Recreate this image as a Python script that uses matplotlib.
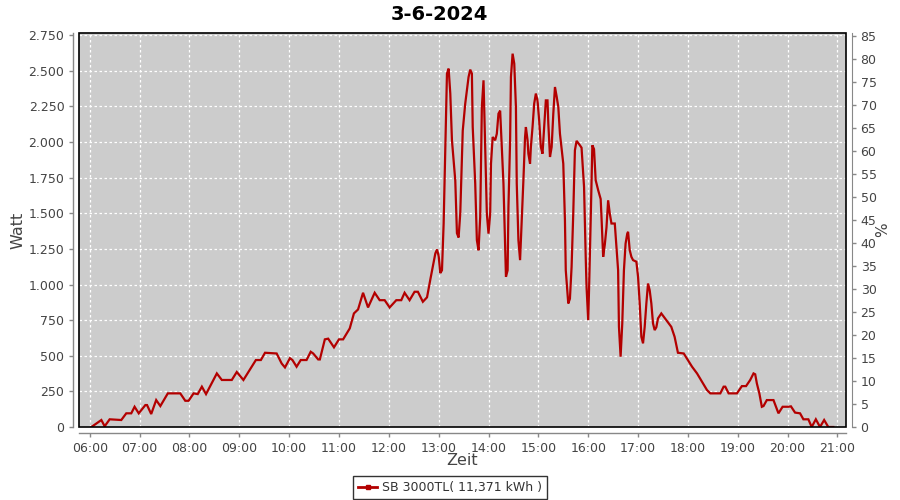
import matplotlib
matplotlib.use("Agg")
import matplotlib.pyplot as plt
from matplotlib.ticker import FixedLocator, FuncFormatter
from matplotlib.lines import Line2D
from matplotlib.patches import Rectangle

title = "3-6-2024"
series_name = "SB 3000TL( 11,371 kWh )"

times = [
    "06:02", "06:14", "06:18", "06:24", "06:38", "06:44", "06:50", "06:54", "06:59", "07:07",
    "07:09", "07:14", "07:20", "07:25", "07:34", "07:49", "07:55", "07:59", "08:05", "08:10",
    "08:15", "08:20", "08:33", "08:39", "08:51", "08:57", "09:05", "09:15", "09:20", "09:26",
    "09:31", "09:45", "09:51", "09:55", "10:01", "10:04", "10:09", "10:14", "10:21", "10:26",
    "10:29", "10:35", "10:37", "10:43", "10:47", "10:54", "11:00", "11:05", "11:13", "11:18",
    "11:23", "11:29", "11:35", "11:43", "11:49", "11:55", "12:01", "12:09", "12:15", "12:19",
    "12:25", "12:31", "12:35", "12:41", "12:46", "12:50", "12:56", "12:58", "13:00", "13:02",
    "13:04", "13:06", "13:08", "13:10", "13:12", "13:14", "13:16", "13:18", "13:20", "13:22",
    "13:24", "13:26", "13:29", "13:32", "13:36", "13:38", "13:40", "13:41", "13:44", "13:46",
    "13:48", "13:50", "13:52", "13:54", "13:58", "14:00", "14:02", "14:03", "14:05", "14:08",
    "14:10", "14:12", "14:14", "14:16", "14:18", "14:20", "14:21", "14:23", "14:24", "14:26",
    "14:27", "14:29", "14:31", "14:33", "14:34", "14:36", "14:38", "14:40", "14:42", "14:44",
    "14:45", "14:47", "14:48", "14:50", "14:51", "14:53", "14:55", "14:57", "14:59", "15:01",
    "15:03", "15:05", "15:07", "15:09", "15:11", "15:12", "15:14", "15:16", "15:18", "15:20",
    "15:22", "15:24", "15:26", "15:30", "15:32", "15:33", "15:36", "15:38", "15:40", "15:42",
    "15:44", "15:46", "15:50", "15:52", "15:55", "15:57", "15:58", "16:00", "16:01", "16:03",
    "16:04", "16:05", "16:07", "16:09", "16:12", "16:15", "16:16", "16:18", "16:20", "16:22",
    "16:24", "16:26", "16:28", "16:32", "16:34", "16:36", "16:37", "16:39", "16:41", "16:43",
    "16:45", "16:47", "16:48", "16:50", "16:52", "16:54", "16:58", "17:00", "17:02", "17:04",
    "17:06", "17:08", "17:10", "17:12", "17:14", "17:16", "17:18", "17:20", "17:22", "17:24",
    "17:28", "17:34", "17:40", "17:44", "17:48", "17:55", "18:00", "18:05", "18:11", "18:17",
    "18:23", "18:27", "18:35", "18:39", "18:43", "18:45", "18:49", "18:59", "19:05", "19:10",
    "19:15", "19:19", "19:21", "19:23", "19:26", "19:29", "19:31", "19:35", "19:43", "19:46",
    "19:49", "19:54", "20:01", "20:04", "20:09", "20:15", "20:19", "20:25", "20:29", "20:34",
    "20:39", "20:44", "20:49", "20:55",
]

watts = [
    0, 49, 5, 54, 49, 96, 96, 142, 96, 154,
    154, 91, 189, 147, 236, 236, 184, 184, 236, 231,
    283, 231, 376, 330, 330, 386, 330, 423, 470, 470,
    521, 516, 446, 418, 483, 470, 423, 470, 470, 528,
    516, 474, 474, 615, 620, 559, 615, 615, 692, 797,
    825, 942, 839, 942, 890, 890, 839, 890, 890, 942,
    890, 949, 949, 879, 910, 1036, 1218, 1246, 1200, 1080,
    1100, 1428, 1942, 2480, 2515, 2340, 2012, 1870, 1730, 1360,
    1330, 1500, 2080, 2270, 2456, 2508, 2480, 2105, 1710, 1311,
    1240, 1474, 2246, 2433, 1497, 1357, 1497, 1848, 2035, 2012,
    2058, 2199, 2220, 1965, 1708, 1263, 1054, 1100, 1545, 2012,
    2456, 2620, 2550, 2246, 1708, 1311, 1171, 1450, 1732, 2035,
    2105, 2012, 1918, 1848, 1965, 2105, 2270, 2340, 2290, 2150,
    1965, 1918, 2105, 2292, 2292, 2130, 1895, 1965, 2200, 2386,
    2320, 2246, 2058, 1848, 1451, 1100, 867, 900, 1123, 1497,
    1942, 2008, 1977, 1960, 1685, 1194, 984, 750, 960, 1451,
    1732, 1977, 1950, 1732, 1662, 1600, 1474, 1194, 1281, 1400,
    1591, 1497, 1428, 1428, 1264, 1100, 703, 493, 727, 1100,
    1287, 1357, 1370, 1240, 1194, 1171, 1160, 1054, 867, 633,
    587, 703, 867, 1007, 960, 867, 727, 680, 700, 762,
    797, 750, 703, 633, 521, 516, 470, 423, 376, 318,
    259, 236, 236, 236, 283, 283, 236, 236, 287, 287,
    330, 376, 370, 306, 236, 142, 147, 189, 189, 142,
    96, 142, 142, 145, 101, 96, 54, 54, 0, 54,
    0, 49, 0, 0,
]

hour_ticks = list(range(6, 22))
watt_ticks = list(range(0, 2751, 250))
pct_ticks = list(range(0, 86, 5))


def to_min(s):
    h, m = s.split(":")
    return int(h) * 60 + int(m)


x = [to_min(t) for t in times]

plt.rcParams['font.family'] = ['DejaVu Sans']
fig = plt.figure(figsize=(9, 5), dpi=100)
fig.patch.set_facecolor('white')
ax = fig.add_axes([79 / 900, 1 - 427 / 500, 767 / 900, 394 / 500])
ax.set_facecolor('#cccccc')

line_color = '#b30000'
ax.plot(x, watts, color=line_color, linewidth=1.6, solid_joinstyle='miter', zorder=3)

ax.set_xlim(347.1, 1270.3)
ax.set_ylim(0, 2765)

ax.xaxis.set_major_locator(FixedLocator([h * 60 for h in hour_ticks]))
ax.xaxis.set_major_formatter(FuncFormatter(lambda v, p: f"{int(round(v / 60)):02d}:00"))
ax.yaxis.set_major_locator(FixedLocator(watt_ticks))
ax.yaxis.set_major_formatter(FuncFormatter(lambda v, p: f"{int(v):,}".replace(",", ".")))

ax.grid(True, color='white', linestyle=(0, (2, 2)), linewidth=0.9, zorder=1)
ax.set_axisbelow(True)

for s in ['top', 'right']:
    ax.spines[s].set_visible(False)
for s in ['left', 'bottom']:
    ax.spines[s].set_position(('outward', 4))
    ax.spines[s].set_color('#888888')
    ax.spines[s].set_linewidth(1)

ax.tick_params(axis='both', colors='#888888', labelcolor='#444444', labelsize=9, length=3, width=1)

ax.add_patch(Rectangle((0, 0), 1, 1, transform=ax.transAxes, fill=False,
                       edgecolor='black', linewidth=1.2, zorder=5, clip_on=False))

ax2 = ax.twinx()
ax2.set_ylim(0, 85.66)
ax2.yaxis.set_major_locator(FixedLocator(pct_ticks))
for s in ['top', 'left', 'bottom']:
    ax2.spines[s].set_visible(False)
ax2.spines['right'].set_position(('outward', 4))
ax2.spines['right'].set_color('#888888')
ax2.tick_params(axis='y', colors='#888888', labelcolor='#444444', labelsize=9, length=3, width=1)
ax2.set_ylabel('%', fontsize=11, color='#444444', labelpad=-1)

ax.set_ylabel('Watt', fontsize=11.5, color='#444444', labelpad=2)
ax.set_xlabel('Zeit', fontsize=11.5, color='#444444', labelpad=-1)

fig.text(0.488, 0.972, title, ha='center', va='center', fontsize=14, fontweight='bold', color='black')

handle = Line2D([0], [0], color=line_color, linewidth=2, marker='s', markersize=2.5)
leg = fig.legend([handle], [series_name], loc='center', bbox_to_anchor=(450 / 900, 1 - 487.5 / 500),
                 fontsize=9, frameon=True, fancybox=False, edgecolor='black', handlelength=1.5,
                 handletextpad=0.4, borderpad=0.4, labelcolor='#333333')
leg.get_frame().set_linewidth(1)

fig.savefig('out.png', dpi=100, facecolor='white')
